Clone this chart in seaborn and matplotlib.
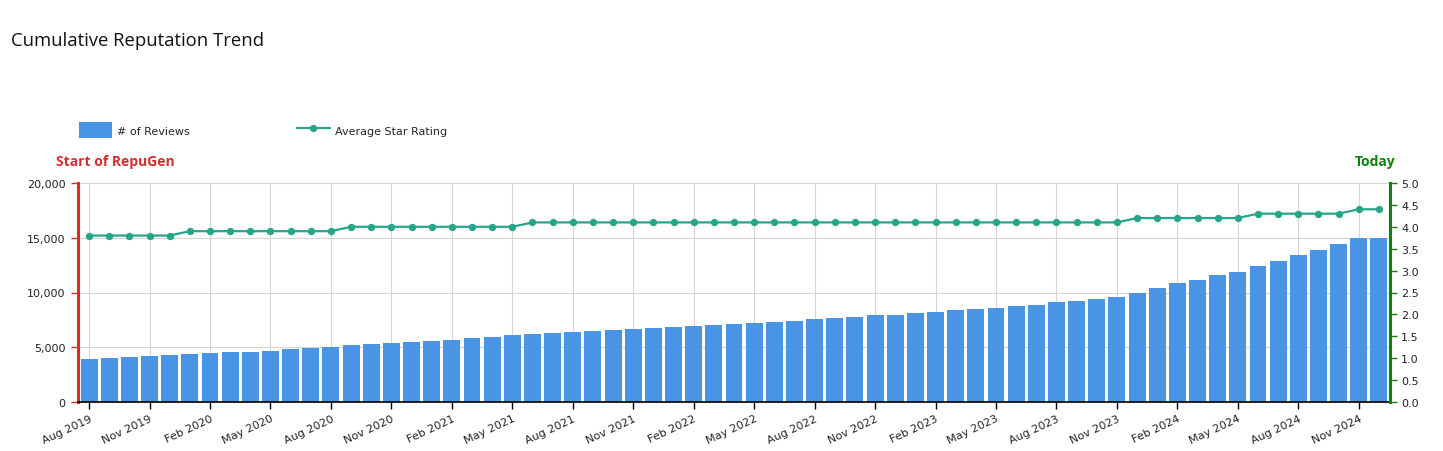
import numpy as np
import pandas as pd
import matplotlib
matplotlib.use("Agg")
import matplotlib.pyplot as plt
import seaborn as sns

# ---------------- data ----------------
months = [d.strftime("%b %Y") for d in pd.date_range("2019-08-01", "2024-12-01", freq="MS")]

reviews = [
    3960, 4050, 4145, 4235, 4330, 4420, 4510, 4600, 4600, 4695, 4880, 4970, 5060, 5245, 5335, 5430, 5510,
    5580, 5670, 5855, 5950, 6130, 6220, 6315, 6405, 6500, 6590, 6680, 6775, 6865, 6955, 7050, 7140,
    7250, 7340, 7435, 7620, 7715, 7805, 7900, 7990, 8085, 8180, 8360, 8455, 8550, 8735, 8825, 9090,
    9200, 9390, 9575, 9940, 10390, 10850, 11120, 11575, 11850, 12390, 12850, 13390, 13850, 14390, 14940, 14950,
]

rating = (
    [3.8] * 5 + [3.9] * 8 + [4.0] * 9 + [4.1] * 30 + [4.2] * 6 + [4.3] * 5 + [4.4] * 2
)

left_ticks = [0, 5000, 10000, 15000, 20000]
left_tick_labels = ["0", "5,000", "10,000", "15,000", "20,000"]
right_ticks = [0.0, 0.5, 1.0, 1.5, 2.0, 2.5, 3.0, 3.5, 4.0, 4.5, 5.0]

title = "Cumulative Reputation Trend"
bar_label = "# of Reviews"
line_label = "Average Star Rating"

# ---------------- style ----------------
sns.set_theme(style="white")
plt.rcParams["font.family"] = ["DejaVu Sans"]

BAR_C = "#4A94E5"
LINE_C = "#27A58A"
RED = "#D32F2F"
GREEN = "#0A840A"
GRID_C = "#D5D5D5"

df = pd.DataFrame({"month": months, "reviews": reviews, "rating": rating})
df["pos"] = np.arange(len(df))

W, H = 1443, 452
fig = plt.figure(figsize=(W / 100, H / 100), dpi=100)
ax = fig.add_axes([78 / W, (H - 403) / H, (1390 - 78) / W, (403 - 184) / H])

sns.barplot(data=df, x="pos", y="reviews", native_scale=True, color=BAR_C,
            width=0.84, saturation=1, label=bar_label, ax=ax, zorder=2)
for p in ax.patches:
    p.set_edgecolor("none")

ax.set_xlim(-0.55, len(df) - 0.45)
ax.set_ylim(0, 20000)
ax.set_xlabel("")
ax.set_ylabel("")

tick_pos = list(range(0, len(df), 3))
ax.set_xticks(tick_pos)
ax.set_xticklabels([months[i] for i in tick_pos], rotation=25, ha="right",
                   rotation_mode="anchor", fontsize=8, color="#222222")
ax.set_yticks(left_ticks)
ax.set_yticklabels(left_tick_labels, fontsize=8, color="#222222")

ax.set_axisbelow(True)
ax.grid(True, color=GRID_C, linewidth=0.8)
ax.tick_params(axis="x", which="major", length=5, width=1, color="black", pad=3,
               bottom=True)
ax.tick_params(axis="y", which="major", length=5, width=1, color=RED, pad=4, left=True)

for s in ["top", "right"]:
    ax.spines[s].set_visible(False)
ax.spines["left"].set_color(RED)
ax.spines["left"].set_linewidth(2.2)
ax.spines["bottom"].set_color("black")
ax.spines["bottom"].set_linewidth(1.2)

# ---- rating line on twin axis ----
ax2 = ax.twinx()
sns.lineplot(data=df, x="pos", y="rating", ax=ax2, color=LINE_C, linewidth=1.6,
             marker="o", markersize=5.3, markeredgewidth=0, label=line_label, zorder=3)
ax2.set_ylim(0, 5)
ax2.set_xlim(-0.55, len(df) - 0.45)
ax2.set_ylabel("")
ax2.set_yticks(right_ticks)
ax2.set_yticklabels([f"{t:.1f}" for t in right_ticks], fontsize=8, color="#222222")
ax2.tick_params(axis="y", length=5, width=1, color=GREEN, pad=3, right=True)
ax2.grid(False)
for s in ["top", "left", "bottom"]:
    ax2.spines[s].set_visible(False)
ax2.spines["right"].set_color(GREEN)
ax2.spines["right"].set_linewidth(2.2)

# ---- legend ----
h1, l1 = ax.get_legend_handles_labels()
h2, l2 = ax2.get_legend_handles_labels()
if ax.get_legend():
    ax.get_legend().remove()
if ax2.get_legend():
    ax2.get_legend().remove()
fig.legend(h1 + h2, l1 + l2, loc="center left", bbox_to_anchor=(79 / W, 1 - 131 / H),
           ncol=2, frameon=False, fontsize=8, borderpad=0, borderaxespad=0,
           handlelength=3.0, handleheight=1.75, handletextpad=0.45, columnspacing=9.6)

# ---- texts ----
fig.text(11 / W, 1 - 41 / H, title, fontsize=13.3, family=["Open Sans", "DejaVu Sans"],
         color="#111111", va="center", ha="left")
fig.text(56 / W, 1 - 162 / H, "Start of RepuGen", fontsize=10, fontweight="bold",
         family=["Open Sans", "DejaVu Sans"], color=RED, va="center", ha="left")
fig.text(1395 / W, 1 - 162 / H, "Today", fontsize=10, fontweight="bold",
         family=["Open Sans", "DejaVu Sans"], color=GREEN, va="center", ha="right")

fig.savefig("out.png", dpi=100)
